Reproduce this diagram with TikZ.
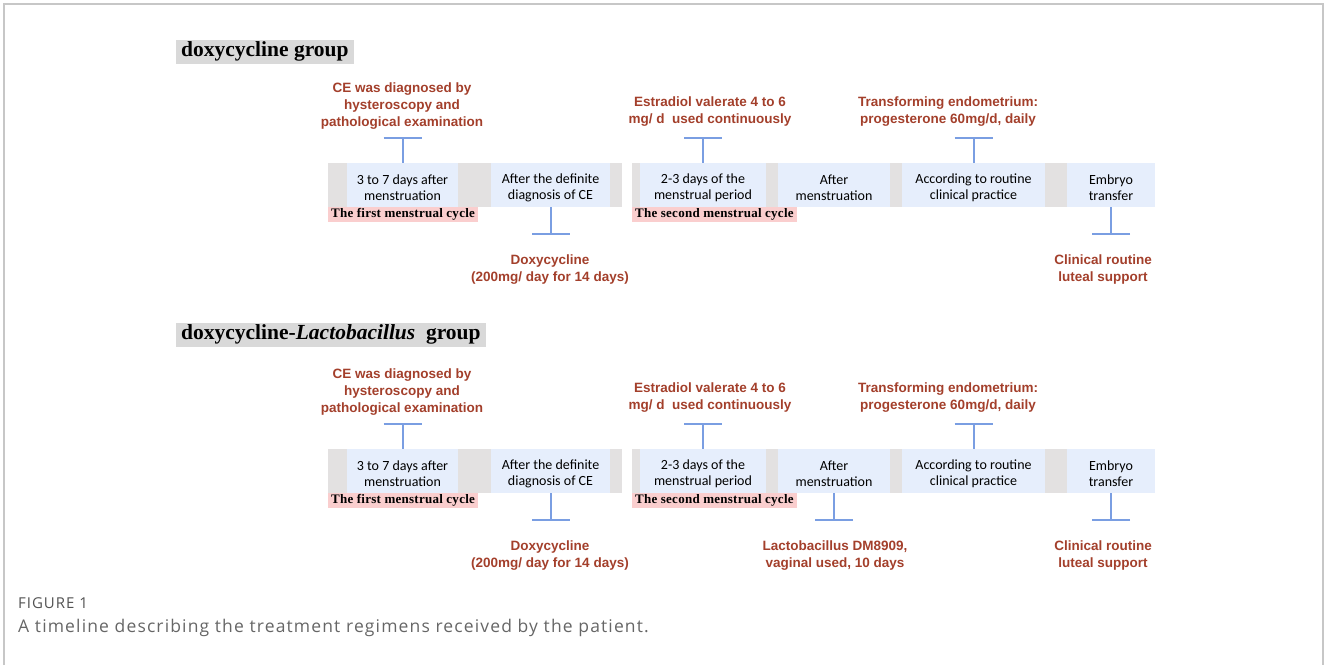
\documentclass[tikz,border=0pt]{standalone}
\usepackage{fontspec}
\setmainfont{Liberation Serif}
\newfontfamily\barfont{Carlito}
\newfontfamily\notefont{Liberation Sans}
\newfontfamily\capfont[LetterSpace=6.5]{Open Sans}
\newfontfamily\cyclefont[LetterSpace=2]{Liberation Serif}
\newcommand{\lift}{\rule{0pt}{14.5pt}}
\usetikzlibrary{arrows.meta}
\definecolor{notered}{RGB}{163,63,43}
\definecolor{stemblue}{RGB}{122,158,226}
\definecolor{barblue}{RGB}{230,238,252}
\definecolor{bargray}{RGB}{227,225,225}
\definecolor{headgray}{RGB}{217,217,217}
\definecolor{cyclepink}{RGB}{250,206,206}
\tikzset{
  period/.style={fill=barblue, minimum height=44pt, inner sep=0pt, align=center, font=\barfont\fontsize{14}{16}\selectfont},
  note/.style={text=notered, align=center, inner sep=0pt, font=\notefont\bfseries\fontsize{13.5}{17}\selectfont},
  cyclelabel/.style={fill=cyclepink, anchor=north west, inner xsep=3pt, inner ysep=0pt, minimum height=15pt, font=\cyclefont\bfseries\fontsize{13}{13}\selectfont},
  heading/.style={fill=headgray, anchor=west, inner xsep=5pt, inner ysep=0pt, minimum height=24pt, font=\bfseries\fontsize{21.5}{22}\selectfont},
  stem/.style={stemblue, line width=2pt, -{Bar[width=38pt]}},
  caption/.style={anchor=west, inner sep=0pt, font=\capfont\fontsize{17.5}{18}\selectfont, text=black!60}
}
\begin{document}
\begin{tikzpicture}[x=1pt,y=-1pt]
        \useasboundingbox (0,0) rectangle (1328,665);
        \draw[black!22, line width=1.2pt] (4,665) -- (4,4) -- (1323,4) -- (1323,665);

        \node[heading](h1) at (176,51.5) {doxycycline group};
        \fill[bargray] (328,163) rectangle (622,207);
        \fill[bargray] (632,163) rectangle (1155,207);
        \node[period, minimum width=111pt](p11) at (402.5,185) {\lift 3 to 7 days after\\menstruation};
        \node[period, minimum width=119pt](p12) at (550.5,185) {\lift After the definite\\diagnosis of CE};
        \node[period, minimum width=126pt](p13) at (703,185) {\lift 2-3 days of the\\menstrual period};
        \node[period, minimum width=112pt](p14) at (834,185) {\lift After\\menstruation};
        \node[period, minimum width=143pt](p15) at (973.5,185) {\lift According to routine\\clinical practice};
        \node[period, minimum width=88pt](p16) at (1111,185) {\lift Embryo\\transfer};
        \node[cyclelabel](c11) at (328,207) {The first menstrual cycle};
        \node[cyclelabel](c12) at (632,207) {The second menstrual cycle};
        \node[note](n11) at (402,106.5) {CE was diagnosed by\\hysteroscopy and\\pathological examination};
        \node[note](n12) at (710,111.5) {Estradiol valerate 4 to 6\\mg/ d\ \ used continuously};
        \node[note](n13) at (948,111.5) {Transforming endometrium:\\progesterone 60mg/d, daily};
        \node[note](n14) at (550,269.5) {Doxycycline\\(200mg/ day for 14 days)};
        \node[note](n15) at (1103,269.5) {Clinical routine\\luteal support};
        \coordinate(t11) at (402.5,137);
        \coordinate(t12) at (703,137);
        \coordinate(t13) at (973.5,137);
        \coordinate(t14) at (550.5,235);
        \coordinate(t15) at (1111,235);
        \draw[stem](p11)--(t11);
        \draw[stem](p13)--(t12);
        \draw[stem](p15)--(t13);
        \draw[stem](p12)--(t14);
        \draw[stem](p16)--(t15);

        \node[heading](h2) at (176,334.5) {doxycycline-\textit{Lactobacillus}\ \ group};
        \fill[bargray] (328,449) rectangle (622,493);
        \fill[bargray] (632,449) rectangle (1155,493);
        \node[period, minimum width=111pt](p21) at (402.5,471) {\lift 3 to 7 days after\\menstruation};
        \node[period, minimum width=119pt](p22) at (550.5,471) {\lift After the definite\\diagnosis of CE};
        \node[period, minimum width=126pt](p23) at (703,471) {\lift 2-3 days of the\\menstrual period};
        \node[period, minimum width=112pt](p24) at (834,471) {\lift After\\menstruation};
        \node[period, minimum width=143pt](p25) at (973.5,471) {\lift According to routine\\clinical practice};
        \node[period, minimum width=88pt](p26) at (1111,471) {\lift Embryo\\transfer};
        \node[cyclelabel](c21) at (328,493) {The first menstrual cycle};
        \node[cyclelabel](c22) at (632,493) {The second menstrual cycle};
        \node[note](n21) at (402,392.5) {CE was diagnosed by\\hysteroscopy and\\pathological examination};
        \node[note](n22) at (710,397.5) {Estradiol valerate 4 to 6\\mg/ d\ \ used continuously};
        \node[note](n23) at (948,397.5) {Transforming endometrium:\\progesterone 60mg/d, daily};
        \node[note](n24) at (550,555.5) {Doxycycline\\(200mg/ day for 14 days)};
        \node[note](n25) at (835,555.5) {Lactobacillus DM8909,\\vaginal used, 10 days};
        \node[note](n26) at (1103,555.5) {Clinical routine\\luteal support};
        \coordinate(t21) at (402.5,423);
        \coordinate(t22) at (703,423);
        \coordinate(t23) at (973.5,423);
        \coordinate(t24) at (550.5,521);
        \coordinate(t25) at (834,521);
        \coordinate(t26) at (1111,521);
        \draw[stem](p21)--(t21);
        \draw[stem](p23)--(t22);
        \draw[stem](p25)--(t23);
        \draw[stem](p22)--(t24);
        \draw[stem](p24)--(t25);
        \draw[stem](p26)--(t26);

        \node[caption, font=\capfont\fontsize{15}{15}\selectfont, text=black!68](fig) at (18,603) {FIGURE 1};
        \node[caption](cap) at (18,627.5) {A timeline describing the treatment regimens received by the patient.};
\end{tikzpicture}
\end{document}
